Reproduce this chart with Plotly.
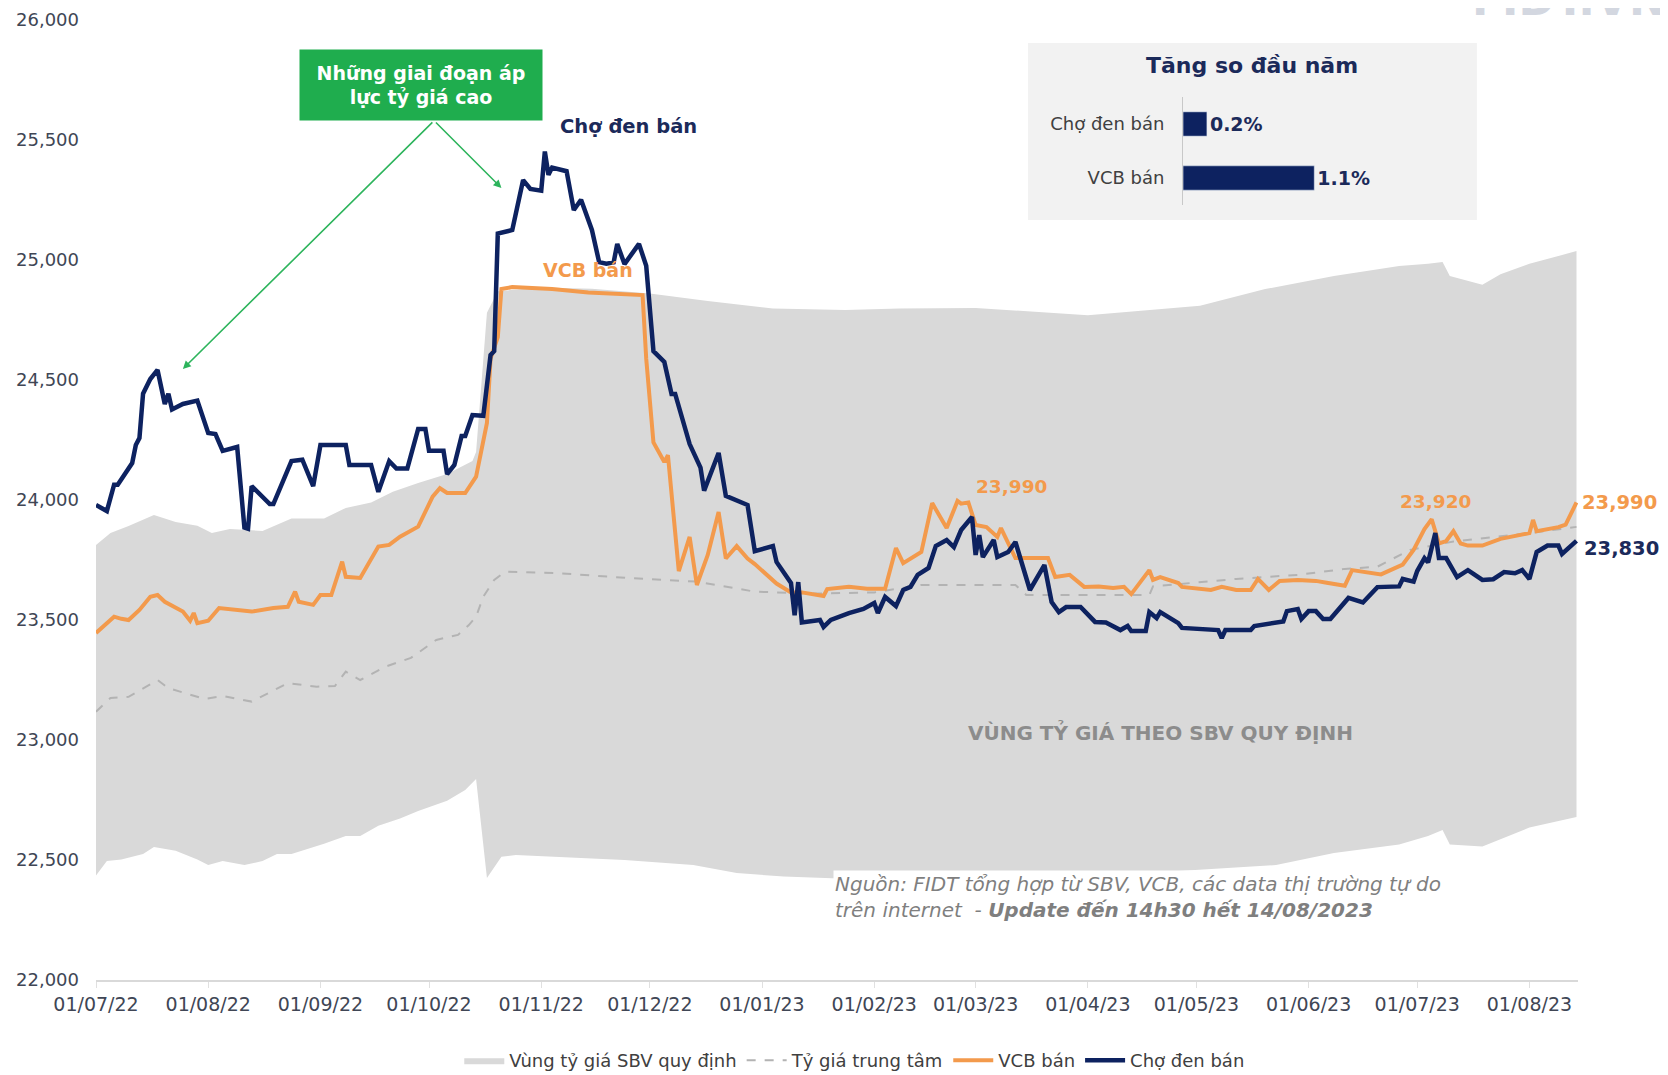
import plotly.graph_objects as go

# ---------------- DATA ----------------
band_upper_dates = ["2022-07-01","2022-07-05","2022-07-10","2022-07-17","2022-07-23","2022-07-29","2022-08-02","2022-08-07",
    "2022-08-16","2022-08-24","2022-09-02","2022-09-08","2022-09-15","2022-09-21","2022-09-28","2022-10-06","2022-10-13",
    "2022-10-14","2022-10-17","2022-10-20","2022-11-01","2022-11-15","2022-12-01","2022-12-17","2023-01-04","2023-01-24",
    "2023-02-08","2023-03-01","2023-04-01","2023-04-24","2023-05-02","2023-05-20","2023-06-08","2023-06-26","2023-07-04",
    "2023-07-08","2023-07-10","2023-07-19","2023-07-24","2023-08-01","2023-08-14"]
band_upper = [23812,23862,23892,23937,23908,23893,23862,23879,23871,23923,23923,23967,23990,24034,24071,24108,24162,
    24200,24780,24870,24885,24880,24860,24829,24798,24792,24798,24800,24770,24800,24809,24879,24933,24975,24984,
    24992,24933,24897,24941,24984,25037]

band_lower_dates = ["2022-07-01","2022-07-04","2022-07-08","2022-07-14","2022-07-17","2022-07-23","2022-07-29","2022-08-01",
    "2022-08-05","2022-08-11","2022-08-16","2022-08-20","2022-08-24","2022-08-30","2022-09-02","2022-09-08","2022-09-12",
    "2022-09-17","2022-09-23","2022-09-28","2022-10-06","2022-10-11","2022-10-14","2022-10-17","2022-10-21","2022-10-25",
    "2022-11-06","2022-11-24","2022-12-13","2022-12-25","2023-01-07","2023-01-28","2023-02-27","2023-03-29","2023-04-15",
    "2023-04-26","2023-05-02","2023-05-23","2023-06-08","2023-06-26","2023-07-04","2023-07-08","2023-07-10","2023-07-19",
    "2023-08-01","2023-08-14"]
band_lower = [22435,22496,22502,22525,22554,22539,22502,22479,22496,22479,22496,22525,22525,22554,22568,22600,22600,
    22643,22673,22704,22747,22792,22837,22425,22514,22521,22514,22500,22479,22446,22431,22420,22422,22430,22444,
    22452,22460,22479,22529,22565,22600,22625,22565,22556,22635,22679]

central_dates = ["2022-07-01","2022-07-05","2022-07-10","2022-07-18","2022-07-21","2022-07-31","2022-08-05","2022-08-13",
    "2022-08-23","2022-08-31","2022-09-05","2022-09-08","2022-09-12","2022-09-19","2022-09-26","2022-10-03","2022-10-09",
    "2022-10-12","2022-10-14","2022-10-16","2022-10-19","2022-10-22","2022-11-05","2022-11-25","2022-12-14","2022-12-30",
    "2023-01-15","2023-02-01","2023-02-14","2023-03-12","2023-03-15","2023-04-18","2023-04-19","2023-05-12","2023-05-29",
    "2023-06-11","2023-06-20","2023-06-29","2023-07-11","2023-08-01","2023-08-14"]
central = [23118,23175,23180,23250,23216,23171,23183,23160,23237,23222,23225,23285,23250,23306,23342,23417,23438,
    23479,23514,23597,23667,23701,23696,23675,23660,23618,23610,23615,23646,23646,23604,23604,23640,23671,23688,
    23713,23722,23792,23827,23862,23888]

vcb_dates = ["2022-07-01","2022-07-06","2022-07-08","2022-07-10","2022-07-13","2022-07-16","2022-07-18","2022-07-20",
    "2022-07-25","2022-07-27","2022-07-28","2022-07-29","2022-08-01","2022-08-04","2022-08-13","2022-08-19","2022-08-23",
    "2022-08-25","2022-08-26","2022-08-30","2022-09-01","2022-09-04","2022-09-07","2022-09-08","2022-09-12","2022-09-17",
    "2022-09-20","2022-09-23","2022-09-28","2022-10-02","2022-10-04","2022-10-06","2022-10-11","2022-10-14","2022-10-17",
    "2022-10-18","2022-10-20","2022-10-21","2022-10-24","2022-11-04","2022-11-14","2022-11-29","2022-11-30","2022-12-02",
    "2022-12-05","2022-12-06","2022-12-09","2022-12-12","2022-12-14","2022-12-17","2022-12-20","2022-12-22","2022-12-25",
    "2022-12-28","2022-12-30","2023-01-05","2023-01-09","2023-01-12","2023-01-18","2023-01-19","2023-01-25","2023-01-30",
    "2023-02-04","2023-02-07","2023-02-09","2023-02-14","2023-02-17","2023-02-21","2023-02-24","2023-02-25","2023-02-27",
    "2023-03-01","2023-03-04","2023-03-07","2023-03-08","2023-03-10","2023-03-12","2023-03-21","2023-03-23","2023-03-27",
    "2023-03-31","2023-04-04","2023-04-08","2023-04-11","2023-04-13","2023-04-18","2023-04-19","2023-04-21","2023-04-26",
    "2023-04-27","2023-05-05","2023-05-08","2023-05-12","2023-05-16","2023-05-18","2023-05-21","2023-05-24","2023-05-29",
    "2023-06-03","2023-06-06","2023-06-11","2023-06-13","2023-06-18","2023-06-21","2023-06-27","2023-06-30","2023-07-03",
    "2023-07-05","2023-07-07","2023-07-09","2023-07-11","2023-07-13","2023-07-15","2023-07-19","2023-07-24","2023-07-29",
    "2023-08-01","2023-08-02","2023-08-03","2023-08-09","2023-08-11","2023-08-14"]
vcb = [23446,23514,23505,23500,23542,23597,23604,23576,23535,23497,23529,23487,23497,23550,23535,23550,23555,
    23618,23576,23563,23604,23604,23743,23680,23675,23806,23813,23847,23889,24014,24049,24029,24029,24097,24321,
    24589,24679,24879,24887,24879,24865,24854,24589,24240,24158,24187,23704,23846,23646,23771,23950,23756,23808,
    23756,23733,23652,23615,23615,23600,23629,23638,23630,23630,23800,23737,23783,23987,23883,23996,23985,23990,
    23896,23887,23846,23883,23821,23758,23758,23679,23688,23638,23640,23633,23638,23608,23708,23667,23679,23654,
    23638,23625,23638,23625,23625,23671,23625,23663,23667,23663,23655,23643,23708,23696,23690,23731,23792,23879,
    23920,23819,23829,23870,23819,23810,23810,23838,23854,23862,23917,23870,23887,23897,23990]

black_dates = ["2022-07-01","2022-07-04","2022-07-06","2022-07-07","2022-07-11","2022-07-12","2022-07-13","2022-07-14",
    "2022-07-16","2022-07-18","2022-07-20","2022-07-21","2022-07-22","2022-07-25","2022-07-29","2022-08-01","2022-08-03",
    "2022-08-05","2022-08-09","2022-08-11","2022-08-12","2022-08-13","2022-08-18","2022-08-19","2022-08-24","2022-08-27",
    "2022-08-30","2022-09-01","2022-09-08","2022-09-09","2022-09-15","2022-09-17","2022-09-20","2022-09-22","2022-09-25",
    "2022-09-28","2022-09-30","2022-10-01","2022-10-05","2022-10-06","2022-10-08","2022-10-10","2022-10-11","2022-10-13",
    "2022-10-16","2022-10-18","2022-10-19","2022-10-20","2022-10-24","2022-10-27","2022-10-29","2022-11-01","2022-11-02",
    "2022-11-03","2022-11-04","2022-11-08","2022-11-10","2022-11-12","2022-11-15","2022-11-17","2022-11-19","2022-11-21",
    "2022-11-22","2022-11-24","2022-11-28","2022-11-30","2022-12-02","2022-12-05","2022-12-07","2022-12-08","2022-12-12",
    "2022-12-15","2022-12-16","2022-12-20","2022-12-22","2022-12-28","2022-12-30","2023-01-04","2023-01-05","2023-01-09",
    "2023-01-10","2023-01-11","2023-01-12","2023-01-17","2023-01-18","2023-01-20","2023-01-25","2023-01-29","2023-02-01",
    "2023-02-02","2023-02-04","2023-02-07","2023-02-09","2023-02-11","2023-02-13","2023-02-16","2023-02-18","2023-02-21",
    "2023-02-23","2023-02-25","2023-02-28","2023-03-01","2023-03-02","2023-03-03","2023-03-06","2023-03-07","2023-03-10",
    "2023-03-12","2023-03-16","2023-03-20","2023-03-22","2023-03-24","2023-03-26","2023-03-30","2023-04-03","2023-04-06",
    "2023-04-10","2023-04-12","2023-04-13","2023-04-17","2023-04-18","2023-04-20","2023-04-21","2023-04-26","2023-04-27",
    "2023-05-07","2023-05-08","2023-05-09","2023-05-16","2023-05-17","2023-05-25","2023-05-26","2023-05-29","2023-05-30",
    "2023-06-01","2023-06-03","2023-06-05","2023-06-07","2023-06-12","2023-06-16","2023-06-20","2023-06-26","2023-06-27",
    "2023-06-30","2023-07-01","2023-07-03","2023-07-04","2023-07-06","2023-07-07","2023-07-09","2023-07-12","2023-07-15",
    "2023-07-19","2023-07-22","2023-07-25","2023-07-28","2023-07-30","2023-08-01","2023-08-03","2023-08-06","2023-08-09",
    "2023-08-10","2023-08-14"]
black = [23979,23954,24064,24064,24154,24229,24258,24443,24504,24542,24400,24443,24377,24400,24414,24279,24275,
    24205,24221,23885,23880,24058,23983,23983,24162,24168,24058,24229,24229,24146,24146,24034,24162,24131,24131,
    24296,24296,24205,24205,24108,24146,24267,24267,24354,24351,24604,24620,25110,25125,25333,25296,25289,25452,
    25355,25385,25370,25208,25251,25125,24991,24985,24990,25067,24983,25067,24976,24620,24575,24442,24442,24233,
    24135,24039,24196,24017,23979,23787,23808,23742,23654,23520,23658,23490,23500,23471,23500,23529,23546,23571,
    23529,23596,23558,23625,23638,23688,23717,23808,23833,23804,23875,23929,23771,23854,23762,23833,23762,23783,
    23825,23625,23729,23575,23533,23554,23554,23492,23490,23458,23475,23454,23454,23533,23508,23533,23487,23467,
    23458,23425,23458,23458,23475,23494,23537,23546,23504,23537,23537,23504,23504,23592,23573,23637,23640,23671,
    23660,23704,23758,23740,23862,23758,23758,23679,23708,23667,23670,23700,23695,23708,23671,23783,23810,23810,
    23775,23830]

inset_categories = ["VCB bán", "Chợ đen bán"]
inset_values = [1.1, 0.2]

y_ticks = [22000, 22500, 23000, 23500, 24000, 24500, 25000, 25500, 26000]

# ---------------- STYLE ----------------
NAVY = "#0d2260"
ORANGE = "#f39a4c"
GRAY_BAND = "#d9d9d9"
FONT = "DejaVu Sans"

fig = go.Figure()

fig.add_trace(go.Scatter(
    x=band_upper_dates + band_lower_dates[::-1],
    y=band_upper + band_lower[::-1],
    fill="toself", fillcolor=GRAY_BAND, mode="lines", line=dict(width=0, color=GRAY_BAND),
    name="Vùng tỷ giá SBV quy định", hoverinfo="skip"))

fig.add_trace(go.Scatter(
    x=central_dates, y=central, mode="lines",
    line=dict(color="#b3b3b3", width=2, dash="dash"),
    name="Tỷ giá trung tâm"))

fig.add_trace(go.Scatter(
    x=vcb_dates, y=vcb, mode="lines",
    line=dict(color=ORANGE, width=4),
    name="VCB bán"))

fig.add_trace(go.Scatter(
    x=black_dates, y=black, mode="lines",
    line=dict(color=NAVY, width=4.5),
    name="Chợ đen bán"))

# inset bar chart
fig.add_trace(go.Bar(
    x=inset_values, y=inset_categories, orientation="h",
    xaxis="x2", yaxis="y2", marker=dict(color=NAVY), width=0.45,
    text=[f"{v}%" for v in inset_values], textposition="outside",
    textfont=dict(family=FONT, size=19, color="#1b2a5a", weight="bold"),
    cliponaxis=False, showlegend=False))

# The page body has an 8px margin; the figure is sized/margined to compensate.
fig.update_layout(
    width=1660, height=1067,
    margin=dict(l=88, r=90, t=12, b=95, autoexpand=False),
    paper_bgcolor="white", plot_bgcolor="rgba(0,0,0,0)",
    font=dict(family=FONT, color="#404655"),
    showlegend=True,
    legend=dict(orientation="h", x=0.512, xanchor="center", y=-0.084, yanchor="middle",
                font=dict(size=18, color="#404040"), traceorder="normal",
                itemwidth=40, tracegroupgap=0),
    xaxis=dict(type="date", range=["2022-07-01", "2023-08-14 10:00"],
               tick0="2022-07-01", dtick="M1", tickformat="%d/%m/%y",
               showgrid=False, zeroline=False, showline=True, linecolor="#d9d9d9", linewidth=2,
               ticks="outside", ticklen=6, tickcolor="#e0e0e0",
               tickfont=dict(size=19, color="#404655")),
    yaxis=dict(range=[22000, 26000], tickvals=y_ticks, tickformat=",d",
               showgrid=False, zeroline=False, showline=False, ticks="",
               ticklabelstandoff=16, tickfont=dict(size=18, color="#404655")),
    xaxis2=dict(domain=[0.7335, 0.8462], range=[0, 1.4], visible=False, anchor="y2"),
    yaxis2=dict(domain=[0.8073, 0.9198], range=[-0.5, 1.5], anchor="x2",
                showline=True, linecolor="#c8c8c8", linewidth=1, ticks="", showgrid=False,
                ticklabelstandoff=14, tickfont=dict(size=18, color="#404040")),
    shapes=[dict(type="rect", xref="paper", yref="paper", x0=0.6289, x1=0.9318, y0=0.7917, y1=0.976,
                 fillcolor="#f2f2f2", line=dict(width=0), layer="below")],
)

ann = []
# inset title
ann.append(dict(xref="paper", yref="paper", x=0.7800, y=0.9521, xanchor="center", yanchor="middle",
                text="<b>Tăng so đầu năm</b>", showarrow=False, font=dict(size=22, color="#1b2a5a")))
# green callout box
ann.append(dict(xref="paper", yref="paper", x=0.2193, y=0.9323, xanchor="center", yanchor="middle",
                text="<b>Những giai đoạn áp<br>lực tỷ giá cao</b>", showarrow=False,
                bgcolor="#1fad4e", width=238, height=66, borderpad=2,
                font=dict(size=19, color="white"), align="center"))
# arrows
ann.append(dict(x="2022-07-25", y=24546, ax=251, ay=-248, text="", showarrow=True,
                arrowhead=2, arrowsize=1, arrowwidth=1.6, arrowcolor="#2db45c"))
ann.append(dict(x="2022-10-21", y=25300, ax=-67, ay=-67, text="", showarrow=True,
                arrowhead=2, arrowsize=1, arrowwidth=1.6, arrowcolor="#2db45c"))
# series labels
ann.append(dict(x="2022-11-25", y=25558, text="<b>Chợ đen bán</b>", showarrow=False,
                font=dict(size=19.5, color="#1b2a5a")))
ann.append(dict(x="2022-11-14", y=24958, text="<b>VCB bán</b>", showarrow=False,
                font=dict(size=19, color=ORANGE)))
ann.append(dict(x="2023-03-11", y=24058, text="<b>23,990</b>", showarrow=False,
                font=dict(size=18.5, color=ORANGE)))
ann.append(dict(x="2023-07-06", y=23992, text="<b>23,920</b>", showarrow=False,
                font=dict(size=18.5, color=ORANGE)))
ann.append(dict(x=vcb_dates[-1], y=vcb[-1], text="<b>23,990</b>", showarrow=False,
                xanchor="left", xshift=4, font=dict(size=19.5, color=ORANGE)))
ann.append(dict(x=black_dates[-1], y=black[-1], text="<b>23,830</b>", showarrow=False,
                xanchor="left", xshift=6, yshift=-8, font=dict(size=19.5, color="#1b2a5a")))
ann.append(dict(x="2023-04-21", y=23033, text="<b>VÙNG TỶ GIÁ THEO SBV QUY ĐỊNH</b>", showarrow=False,
                font=dict(size=20, color="#8c8c8c")))
# source
ann.append(dict(xref="paper", yref="paper", x=0.4970, y=0.0865, xanchor="left", yanchor="middle",
                align="left", showarrow=False, bgcolor="white",
                text="<i>Nguồn: FIDT tổng hợp từ SBV, VCB, các data thị trường tự do<br>trên internet  - <b>Update đến 14h30 hết 14/08/2023</b></i>",
                font=dict(size=20, color="#7f7f7f")))
# cut-off logo at the top edge
ann.append(dict(xref="paper", yref="paper", x=1.0607, y=0.993, xanchor="right", yanchor="bottom",
                text="<b>FIDT.VN</b>", showarrow=False, font=dict(size=44, color="#d3d7e0")))

fig.update_layout(annotations=ann)

fig.write_html("out.html")
